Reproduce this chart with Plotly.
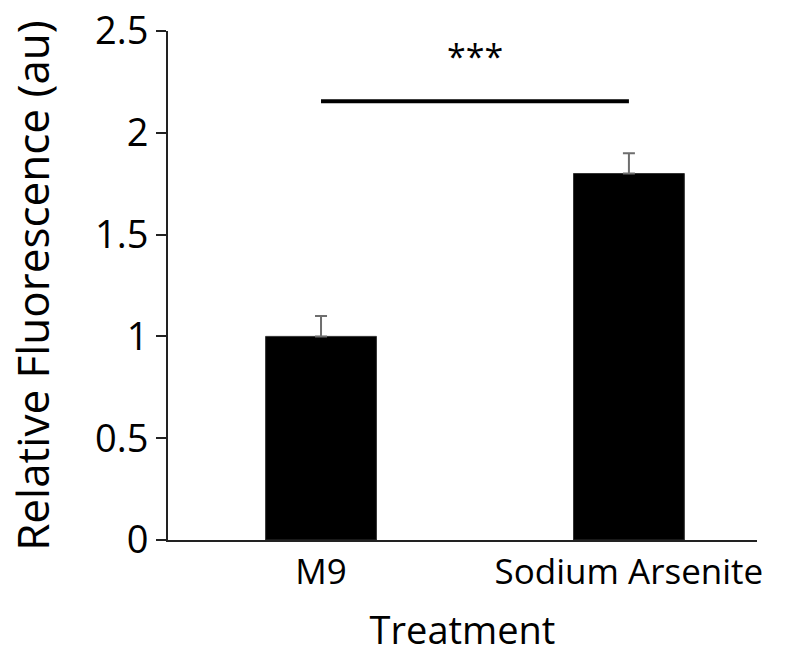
import plotly.graph_objects as go

categories = ["M9", "Sodium Arsenite"]
values = [1.0, 1.8]
errors = [0.1, 0.1]
y_ticks = [0, 0.5, 1, 1.5, 2, 2.5]
y_tick_labels = ["0", "0.5", "1", "1.5", "2", "2.5"]
sig_y = 2.155
sig_label = "***"
sig_label_y = 2.375

FONT = "Open Sans"

fig = go.Figure()
fig.add_trace(go.Bar(
    x=[0, 1], y=values,
    width=0.36,
    marker=dict(color="black", line=dict(color="#333333", width=1)),
    error_y=dict(type="data", array=errors, arrayminus=[0, 0], symmetric=False,
                 color="#6e6e6e", thickness=2, width=6),
    showlegend=False,
))

fig.add_shape(type="line", x0=0, x1=1, y0=sig_y, y1=sig_y, xref="x", yref="y",
              line=dict(color="black", width=4))
fig.add_annotation(x=0.5, y=sig_label_y, xref="x", yref="y", text=sig_label,
                   showarrow=False, font=dict(family=FONT, size=34, color="black"))

fig.update_layout(
    width=800, height=655,
    margin=dict(l=168, r=43, t=31, b=115),
    paper_bgcolor="white", plot_bgcolor="white",
    font=dict(family=FONT, size=34, color="black"),
    xaxis=dict(
        range=[-0.497, 1.416], automargin=False,
        tickmode="array", tickvals=[0, 1], ticktext=categories,
        showline=True, linecolor="#222222", linewidth=2,
        ticks="", showgrid=False, zeroline=False,
        tickfont=dict(family=FONT, size=35),
        title=dict(text="Treatment", font=dict(family=FONT, size=38), standoff=34),
    ),
    yaxis=dict(
        range=[0, 2.5], automargin=False,
        tickmode="array", tickvals=y_ticks, ticktext=y_tick_labels,
        showline=True, linecolor="#222222", linewidth=2,
        ticks="outside", ticklen=10, tickwidth=2, tickcolor="#222222",
        showgrid=False, zeroline=False,
        tickfont=dict(family=FONT, size=38),
        title=dict(text="Relative Fluorescence (au)", font=dict(family=FONT, size=44), standoff=32),
    ),
)

fig.write_html("out.html")
